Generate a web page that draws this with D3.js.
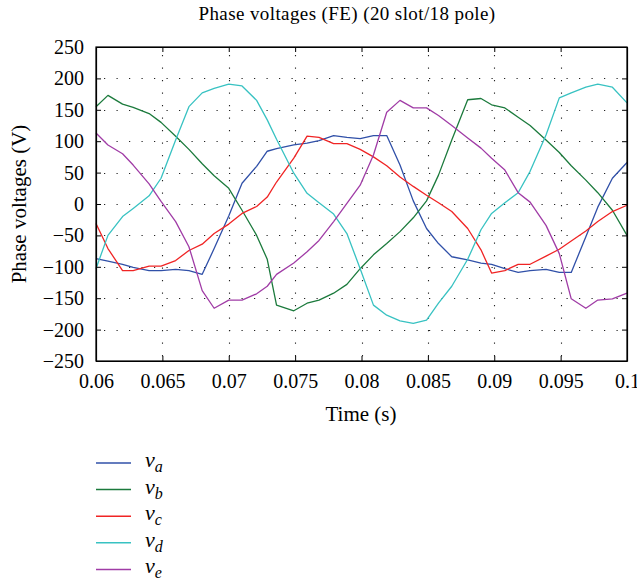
<!DOCTYPE html>
<html>
<head>
<meta charset="utf-8">
<script src="https://d3js.org/d3.v7.min.js"></script>
<style>
  body { margin: 0; background: #fff; }
  text { font-family: "Liberation Serif", "Times New Roman", serif; fill: #000; }
</style>
</head>
<body>
<svg id="vis" width="637" height="583"></svg>
<script>
// time samples (s)
var time = [0.0600, 0.0609, 0.0620, 0.0628, 0.0640, 0.0649, 0.0660, 0.0670, 0.0680, 0.0689,
            0.0700, 0.0710, 0.0721, 0.0729, 0.0736, 0.0749, 0.0759, 0.0768, 0.0779, 0.0789,
            0.0799, 0.0809, 0.0819, 0.0829, 0.0839, 0.0849, 0.0858, 0.0868, 0.0880, 0.0890,
            0.0898, 0.0908, 0.0918, 0.0927, 0.0939, 0.0949, 0.0958, 0.0969, 0.0978, 0.0989, 0.1000]

// phase voltages (V)
var va = [-87, -91, -96, -101, -106, -106, -104, -106, -112, -71,
          -19, 33, 60, 84, 88, 94, 97, 101, 109, 106,
          104, 109, 109, 62, 5, -39, -63, -84, -89, -94,
          -96, -103, -109, -106, -104, -109, -109, -52, -5, 41, 66]
var vb = [155, 173, 159, 154, 144, 130, 108, 87, 64, 45,
          25, -10, -50, -88, -161, -170, -158, -153, -142, -128,
          -103, -81, -63, -44, -22, 5, 46, 102, 166, 168,
          158, 153, 138, 125, 102, 82, 61, 38, 18, -10, -50]
var vc = [-31, -71, -106, -106, -99, -99, -90, -74, -64, -47,
          -32, -15, -4, 11, 35, 73, 108, 106, 96, 96,
          87, 75, 61, 43, 28, 14, 2, -12, -39, -73,
          -110, -106, -96, -96, -83, -72, -59, -43, -28, -12, -2]
var vd = [-103, -50, -20, -7, 13, 41, 102, 155, 177, 184,
          191, 188, 165, 134, 103, 49, 17, 2, -16, -47,
          -103, -161, -177, -186, -190, -185, -158, -131, -88, -41,
          -15, 2, 18, 52, 110, 169, 177, 186, 191, 186, 161]
var ve = [113, 94, 80, 62, 32, 4, -28, -68, -138, -166,
          -153, -153, -143, -131, -112, -94, -76, -58, -28, 1,
          30, 78, 146, 165, 153, 153, 141, 125, 105, 89,
          73, 54, 18, 3, -34, -79, -151, -166, -153, -151, -142]

var seriesNames = ["a", "b", "c", "d", "e"]
var seriesValues = [va, vb, vc, vd, ve]
var seriesColors = ["#3050a8", "#1b7a3c", "#f02424", "#38c2c2", "#a03ca6"]

var xTicks = [0.06, 0.065, 0.07, 0.075, 0.08, 0.085, 0.09, 0.095, 0.1]
var yTicks = [-250, -200, -150, -100, -50, 0, 50, 100, 150, 200, 250]

// plot box
var plotL = 96, plotR = 627, plotT = 47, plotB = 361

var svg = d3.select("#vis")

var x = d3.scaleLinear().domain([0.06, 0.1]).range([plotL, plotR])
var y = d3.scaleLinear().domain([-250, 250]).range([plotB, plotT])

// dotted grid
var grid = svg.append("g")
  .attr("stroke", "#222")
  .attr("stroke-width", 1.1)
  .attr("stroke-dasharray", "1.2,11.3")
grid.selectAll("line.gx").data(xTicks.slice(1, -1)).enter().append("line")
  .attr("x1", function(d){ return Math.round(x(d)) + 0.5 })
  .attr("x2", function(d){ return Math.round(x(d)) + 0.5 })
  .attr("y1", plotT + 8).attr("y2", plotB)
grid.selectAll("line.gy").data(yTicks.slice(1, -1)).enter().append("line")
  .attr("y1", function(d){ return Math.round(y(d)) + 0.5 })
  .attr("y2", function(d){ return Math.round(y(d)) + 0.5 })
  .attr("x1", plotL + 8).attr("x2", plotR)

// curves
var line = d3.line()
  .x(function(d, i){ return x(time[i]) })
  .y(function(d){ return y(d) })

svg.append("g").selectAll("path").data(seriesValues).enter().append("path")
  .attr("d", function(d){ return line(d) })
  .attr("fill", "none")
  .attr("stroke", function(d, i){ return seriesColors[i] })
  .attr("stroke-width", 1.3)
  .attr("stroke-linejoin", "round")

// axes, ticks pointing inward
svg.append("g")
  .attr("transform", "translate(0," + plotB + ")")
  .call(d3.axisBottom(x).tickValues(xTicks).tickFormat(d3.format("")).tickSizeInner(-5).tickSizeOuter(0).tickPadding(13))
svg.append("g")
  .attr("transform", "translate(0," + plotT + ")")
  .call(d3.axisTop(x).tickValues(xTicks).tickFormat("").tickSizeInner(-5).tickSizeOuter(0))
svg.append("g")
  .attr("transform", "translate(" + plotL + ",0)")
  .call(d3.axisLeft(y).tickValues(yTicks).tickFormat(d3.format("")).tickSizeInner(-5).tickSizeOuter(0).tickPadding(12))
svg.append("g")
  .attr("transform", "translate(" + plotR + ",0)")
  .call(d3.axisRight(y).tickValues(yTicks).tickFormat("").tickSizeInner(-5).tickSizeOuter(0))

svg.selectAll(".tick text").style("font-size", "20px").style("font-family", "Liberation Serif")
svg.selectAll(".tick line").attr("stroke", "#000")
svg.selectAll(".domain").attr("stroke", "#000").attr("stroke-width", 1.2)

// frame
svg.append("rect")
  .attr("x", plotL).attr("y", plotT)
  .attr("width", plotR - plotL).attr("height", plotB - plotT)
  .attr("fill", "none").attr("stroke", "#000").attr("stroke-width", 1.2)

// titles
svg.append("text")
  .attr("x", 347).attr("y", 20)
  .attr("text-anchor", "middle")
  .style("font-size", "19px")
  .style("letter-spacing", "0.4px")
  .text("Phase voltages (FE) (20 slot/18 pole)")

svg.append("text")
  .attr("x", 361).attr("y", 421)
  .attr("text-anchor", "middle")
  .style("font-size", "21px")
  .text("Time (s)")

svg.append("text")
  .attr("transform", "translate(26," + ((plotT + plotB) / 2) + ") rotate(-90)")
  .attr("text-anchor", "middle")
  .style("font-size", "21px")
  .text("Phase voltages (V)")

// legend
var legend = svg.append("g")
var rows = legend.selectAll("g").data(seriesNames).enter().append("g")
  .attr("transform", function(d, i){ return "translate(96," + (463 + i * 26.6) + ")" })
rows.append("line")
  .attr("x1", 0).attr("x2", 35)
  .attr("stroke", function(d, i){ return seriesColors[i] })
  .attr("stroke-width", 1.5)
var lbl = rows.append("text")
  .attr("x", 49).attr("y", 4)
  .style("font-size", "22px")
  .style("font-style", "italic")
lbl.append("tspan").text("v")
lbl.append("tspan").attr("dy", 5).style("font-size", "16px").text(function(d){ return d })
</script>
</body>
</html>
